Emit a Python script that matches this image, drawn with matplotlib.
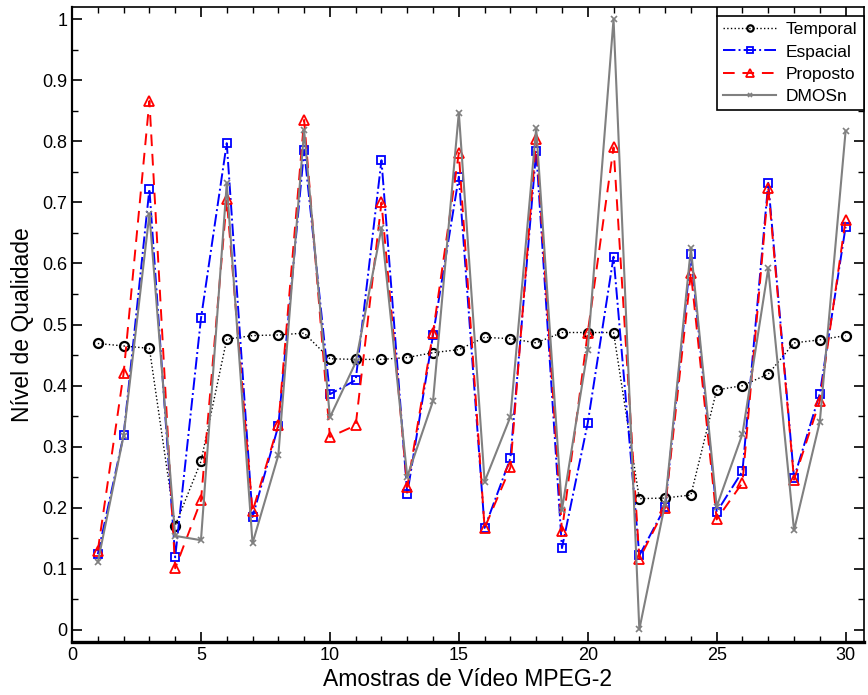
import matplotlib
matplotlib.use("Agg")
import matplotlib.pyplot as plt
from matplotlib.ticker import MultipleLocator

save_path = "out.png"

# Valores
amostras = list(range(1, 31))
temporal = [0.469, 0.465, 0.461, 0.171, 0.276, 0.476, 0.482, 0.483, 0.486, 0.444,
            0.443, 0.443, 0.446, 0.454, 0.459, 0.479, 0.477, 0.470, 0.487, 0.487,
            0.487, 0.215, 0.216, 0.221, 0.393, 0.400, 0.419, 0.470, 0.475, 0.482]
espacial = [0.124, 0.319, 0.722, 0.119, 0.510, 0.797, 0.185, 0.334, 0.786, 0.386,
            0.409, 0.769, 0.223, 0.483, 0.742, 0.167, 0.281, 0.784, 0.134, 0.339,
            0.611, 0.122, 0.201, 0.615, 0.193, 0.260, 0.732, 0.249, 0.387, 0.660]
proposto = [0.130, 0.420, 0.866, 0.101, 0.212, 0.705, 0.194, 0.336, 0.835, 0.316,
            0.335, 0.700, 0.234, 0.487, 0.781, 0.167, 0.266, 0.804, 0.162, 0.487,
            0.790, 0.116, 0.200, 0.585, 0.181, 0.241, 0.724, 0.246, 0.375, 0.672]
dmosn = [0.111, 0.318, 0.681, 0.154, 0.147, 0.731, 0.142, 0.286, 0.818, 0.348,
         0.438, 0.658, 0.251, 0.375, 0.847, 0.243, 0.349, 0.822, 0.197, 0.459,
         1.000, 0.001, 0.207, 0.625, 0.202, 0.321, 0.592, 0.163, 0.341, 0.817]

xticks = [0, 5, 10, 15, 20, 25, 30]
yticks = [i / 10 for i in range(11)]
ytick_labels = ['0'] + ['0.%d' % i for i in range(1, 10)] + ['1']

plt.rcParams['font.family'] = ['Liberation Sans', 'DejaVu Sans']

fig = plt.figure(figsize=(8.68, 6.95), dpi=100)
ax = fig.add_axes([0.083, 0.076, 0.912, 0.914])

ax.plot(amostras, temporal, linestyle=':', color='black', marker='o', markersize=6.5,
        markerfacecolor='none', markeredgewidth=1.6, linewidth=1.0, label='Temporal')
ax.plot(amostras, espacial, linestyle='-.', color='blue', marker='s', markersize=6,
        markerfacecolor='none', markeredgewidth=1.3, linewidth=1.4, label='Espacial')
ax.plot(amostras, proposto, linestyle='--', color='red', marker='^', markersize=7.5,
        markerfacecolor='none', markeredgewidth=1.3, linewidth=1.4, dashes=(6, 4),
        label='Proposto')
ax.plot(amostras, dmosn, linestyle='-', color='#808080', marker='x', markersize=4.5,
        markeredgewidth=1.2, linewidth=1.5, label='DMOSn')

ax.set_xlim(0, 30.7)
ax.set_ylim(-0.02, 1.02)
ax.set_xticks(xticks)
ax.set_xticklabels([str(t) for t in xticks], fontsize=13)
ax.set_yticks(yticks)
ax.set_yticklabels(ytick_labels, fontsize=13)
ax.xaxis.set_minor_locator(MultipleLocator(1))
ax.yaxis.set_minor_locator(MultipleLocator(0.05))
ax.tick_params(which='both', direction='in', top=True, right=True)
ax.tick_params(which='major', length=7, width=1.2)
ax.tick_params(which='minor', length=4, width=1.0)
for s in ax.spines.values():
    s.set_linewidth(1.2)
ax.spines['bottom'].set_linewidth(2.4)
ax.spines['left'].set_linewidth(1.6)

ax.set_xlabel('Amostras de Vídeo MPEG-2', fontsize=16.5, labelpad=3)
ax.set_ylabel('Nível de Qualidade', fontsize=16.5, labelpad=6)

leg = ax.legend(loc='upper right', bbox_to_anchor=(1.0, 0.986), borderaxespad=0,
                fontsize=12.5, fancybox=False, framealpha=1, edgecolor='black',
                handlelength=3.0, labelspacing=0.42, borderpad=0.35,
                handletextpad=0.6, markerscale=0.7)
leg.get_frame().set_linewidth(1.2)

plt.savefig(save_path)
